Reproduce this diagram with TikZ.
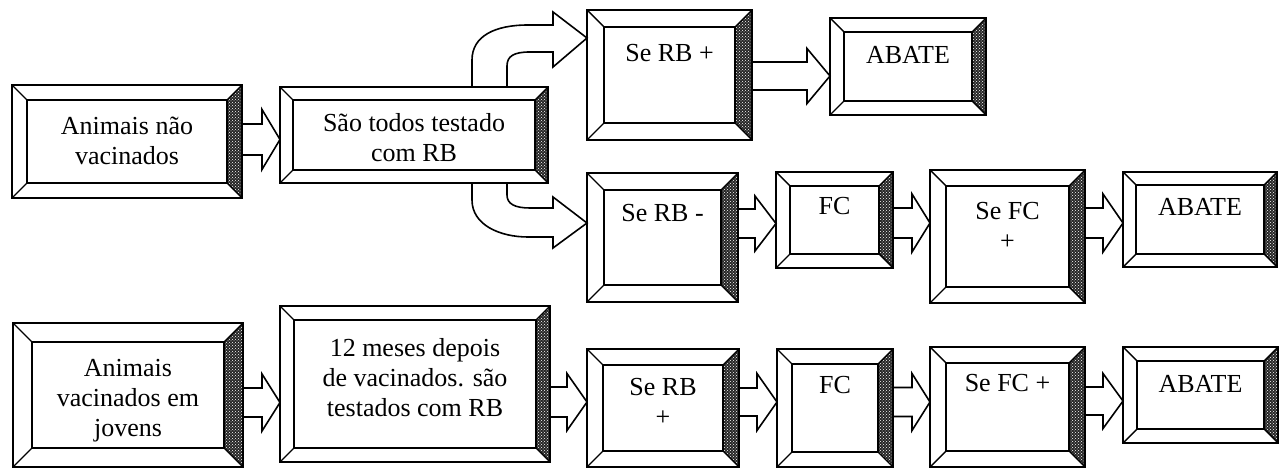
\documentclass[tikz,border=0pt]{standalone}
\usepackage{fontspec}
\setmainfont{Liberation Serif}
\usetikzlibrary{calc,patterns}
\tikzset{
  boxst/.style={draw=none, inner sep=0pt, outer sep=0pt},
  outerln/.style={line width=1.8pt},
  innerln/.style={line width=2.4pt},
  diagln/.style={line width=1.4pt},
  shade/.style={fill=black!85},
  dots/.style={pattern=crosshatch dots, pattern color=white},
  arr/.style={line width=1.6pt, line join=miter},
  txt/.style={font=\fontsize{26}{30}\selectfont, align=center, inner sep=0pt},
}
% name, x1, y1, x2, y2, bevel, text-center-y, text
\newcommand\bbox[8]{%
  \node[boxst, minimum width={(#4)-(#2)}, minimum height={(#5)-(#3)}] (#1) at ({((#2)+(#4))/2},{((#3)+(#5))/2}) {};
  \fill[shade] (#1.north east) -- (#1.south east) -- ($(#1.south east)+(-#6,-#6)$) -- ($(#1.north east)+(-#6,#6)$) -- cycle;
  \fill[dots] (#1.north east) -- (#1.south east) -- ($(#1.south east)+(-#6,-#6)$) -- ($(#1.north east)+(-#6,#6)$) -- cycle;
  \draw[outerln] (#1.north west) rectangle (#1.south east);
  \draw[innerln] ($(#1.north west)+(#6,#6)$) rectangle ($(#1.south east)+(-#6,-#6)$);
  \draw[diagln] (#1.north west) -- ++(#6,#6) (#1.north east) -- ++(-#6,#6)
                (#1.south west) -- ++(#6,-#6) (#1.south east) -- ++(-#6,-#6);
  \node[txt] (#1-t) at ({((#2)+(#4))/2},#7) {#8};
}
% from, to, y centre, shaft half, head half, head length
\newcommand\barrow[6]{%
  \draw[arr] ($(#1.east |- 0,#3)+(0,-#4)$) -- ($(#2.west |- 0,#3)+(-#6,-#4)$)
    -- ($(#2.west |- 0,#3)+(-#6,-#5)$) -- (#2.west |- 0,#3)
    -- ($(#2.west |- 0,#3)+(-#6,#5)$) -- ($(#2.west |- 0,#3)+(-#6,#4)$)
    -- ($(#1.east |- 0,#3)+(0,#4)$);
}
\begin{document}
\begin{tikzpicture}[x=1pt,y=-1pt]
\useasboundingbox (0,0) rectangle (1280,470);

\bbox{a1}{12}{85}{242}{198}{15}{140.5}{Animais não\\vacinados}
\bbox{b1}{280}{87}{548}{183}{13}{137.5}{São todos testado\\com RB}
\bbox{c1}{587}{10}{752}{140}{17}{53.5}{Se RB +}
\bbox{d1}{830}{18}{986}{115}{14}{54.5}{ABATE}
\bbox{c2}{587}{173}{738}{302}{17}{213.5}{Se RB -}
\bbox{e2}{776}{172}{893}{268}{14}{206.5}{FC}
\bbox{f2}{930}{170}{1085}{303}{16}{225.5}{Se FC\\+}
\bbox{g2}{1123}{172}{1277}{267}{13}{206.5}{ABATE}
\bbox{a3}{13}{323}{243}{467}{19}{401}{Animais\\vacinados em\\jovens}
\bbox{b3}{280}{306}{550}{462}{14}{378}{12 meses depois\\de vacinados. são\\testados com RB}
\bbox{c3}{587}{349}{739}{467}{16}{402}{Se RB\\+}
\bbox{e3}{777}{349}{893}{467}{15}{385.5}{FC}
\bbox{f3}{930}{347}{1085}{467}{16}{383.5}{Se FC +}
\bbox{g3}{1123}{347}{1278}{443}{14}{383.5}{ABATE}

\barrow{a1}{b1}{139.5}{15.5}{30}{18}
\barrow{c1}{d1}{76}{14}{27.5}{23}
\barrow{c2}{e2}{223.5}{14.5}{27.5}{21}
\barrow{e2}{f2}{223}{15}{29}{18}
\barrow{f2}{g2}{223}{15}{29}{20}
\barrow{a3}{b3}{402.5}{14.5}{28.5}{18}
\barrow{b3}{c3}{402}{15}{28.5}{20}
\barrow{c3}{e3}{402}{14}{28.5}{20}
\barrow{e3}{f3}{402}{14.5}{28.5}{18}
\barrow{f3}{g3}{401}{14}{27.5}{20}

% curved block arrows from b1 to c1 and c2
\draw[arr] (472,0 |- b1.north) -- (472,60) .. controls (472,36) and (495,25) .. (528,25)
  -- (553,25) -- (553,12) -- (c1.west |- 0,38) -- (553,67) -- (553,52) -- (530,52)
  .. controls (514,52) and (507,56) .. (507,66) -- (507,0 |- b1.north);
\draw[arr] (472,0 |- b1.south) -- (472,200) .. controls (472,225) and (500,237) .. (528,237)
  -- (553,237) -- (553,248) -- (c2.west |- 0,223) -- (553,197) -- (553,208) -- (530,208)
  .. controls (515,208) and (507,204) .. (507,195) -- (507,0 |- b1.south);
\end{tikzpicture}
\end{document}
